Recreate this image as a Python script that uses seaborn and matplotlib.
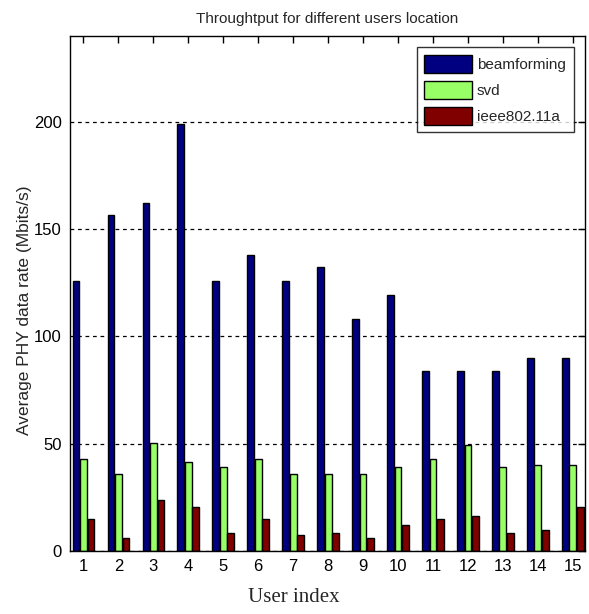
import matplotlib
matplotlib.use("Agg")
import matplotlib.pyplot as plt
import seaborn as sns
import pandas as pd

usuarios = [str(i) for i in range(1, 16)]
beamforming = [126, 156.5, 162, 199, 126, 138, 126, 132.5, 108, 119.5, 84, 84, 84, 90, 90]
svd = [43, 36, 50.5, 41.5, 39, 43, 36, 36, 36, 39, 43, 49.5, 39, 40, 40]
ieee80211a = [15, 6, 24, 20.5, 8.5, 15, 7.5, 8.5, 6, 12, 15, 16.5, 8.5, 10, 20.5]
series = ["beamforming", "svd", "ieee802.11a"]
colores = ["#000080", "#99ff66", "#800000"]
yticks = [0, 50, 100, 150, 200]

df = pd.DataFrame({
    "user": usuarios * 3,
    "rate": beamforming + svd + ieee80211a,
    "method": [s for s in series for _ in usuarios],
})

sns.set_style("white")
plt.rcParams["font.family"] = ["Liberation Sans", "DejaVu Sans"]

fig = plt.figure(figsize=(5.89, 6.14), dpi=100)
ax = fig.add_axes([70 / 589, 1 - 551 / 614, 515 / 589, 515 / 614])

sns.barplot(data=df, x="user", y="rate", hue="method", order=usuarios,
            hue_order=series, palette=colores, width=0.644, gap=0.1,
            edgecolor="black", linewidth=1, saturation=1, ax=ax)

ax.set_xlim(-0.386, 14.35)
ax.set_ylim(0, 240)
ax.set_yticks(yticks)
ax.yaxis.grid(True, color="black", linestyle=(0, (3, 3)), linewidth=0.9)
ax.set_axisbelow(True)

# ticks hacia adentro, en los cuatro lados como en matlab
ax.tick_params(direction="in", length=5, width=1, top=True, right=True,
               labelsize=12, colors="black", pad=6)
for s in ax.spines.values():
    s.set_visible(True)
    s.set_color("black")
    s.set_linewidth(1)

ax.set_title("Throughtput for different users location", fontsize=11, pad=9)
ax.set_xlabel("User index", fontsize=15, family=["Liberation Serif", "DejaVu Serif"])
ax.xaxis.set_label_coords(0.435, -0.072)
ax.set_ylabel("Average PHY data rate (Mbits/s)", fontsize=12.5)
ax.yaxis.set_label_coords(-0.074, 0.468)

leg = ax.legend(loc="upper right", fontsize=11, frameon=True, fancybox=False,
                edgecolor="black", handlelength=3.1, handleheight=1.4,
                borderaxespad=0.75, labelspacing=0.55, handletextpad=0.35,
                borderpad=0.5)
leg.get_frame().set_linewidth(1)

fig.savefig("out.png", dpi=100)
plt.close(fig)
